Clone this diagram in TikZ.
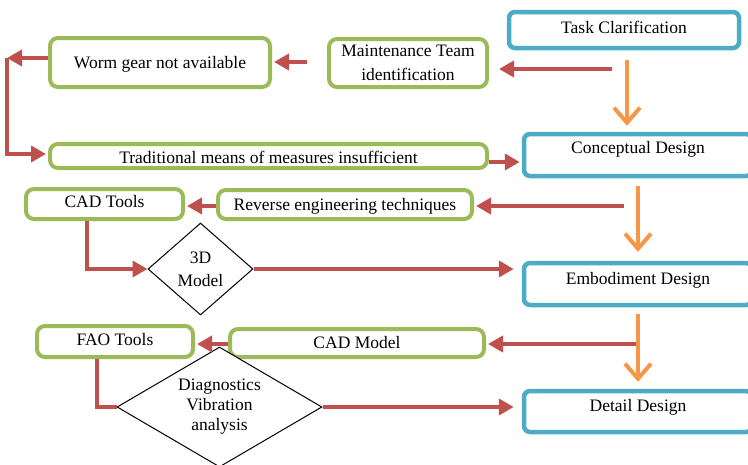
\documentclass[tikz,border=0pt]{standalone}
\usepackage{fontspec}
\setmainfont{Liberation Serif}
\usepackage{tikz}
\usetikzlibrary{arrows.meta, shapes.geometric, calc}

\definecolor{phaseblue}{HTML}{4BACC6}
\definecolor{toolgreen}{HTML}{9BBB59}
\definecolor{linkred}{HTML}{C0504D}
\definecolor{flowor}{HTML}{F79646}

\begin{document}
\begin{tikzpicture}[x=1pt, y=-1pt, font=\fontsize{17.5}{24}\selectfont,
  bluebox/.style={draw=phaseblue, line width=4.5pt, rounded corners=6pt, inner sep=0pt},
  greenbox/.style={draw=toolgreen, line width=4pt, rounded corners=8pt, inner sep=0pt},
  decision/.style={diamond, draw=black, line width=1pt, fill=white, inner sep=0pt, align=center},
  redarrow/.style={draw=linkred, line width=4.5pt, -{Triangle[length=15pt, width=16pt]}},
  redline/.style={draw=linkred, line width=4.5pt},
  orangearrow/.style={draw=flowor, line width=4pt, -{Straight Barb[length=15pt, width=26pt]}}]

% the frame
\useasboundingbox (0,0) rectangle (748,464);

% the design phases
\node[bluebox, minimum width=230pt, text height=21pt, text depth=15pt] (task) at (624,30) {Task Clarification};
\node[bluebox, minimum width=228pt, text height=19.5pt, text depth=22.5pt] (concept) at (638,155) {Conceptual Design};
\node[bluebox, minimum width=228pt, text height=21pt, text depth=21pt] (embod) at (638,284) {Embodiment Design};
\node[bluebox, minimum width=228pt, text height=20pt, text depth=21pt] (detail) at (638,411.5) {Detail Design};

% the steps
\node[greenbox, minimum width=220pt, text height=30pt, text depth=19pt] (worm) at (160,62.5) {Worm gear not available};
\node[greenbox, minimum width=158pt, minimum height=48pt, align=center] (maint) at (408,63) {Maintenance Team\\identification};
\node[greenbox, minimum width=437pt, text height=19pt, text depth=5pt] (trad) at (268.5,156) {Traditional means of measures insufficient};
\node[greenbox, minimum width=157pt, text height=18.5pt, text depth=11.5pt] (cadt) at (104.5,204) {CAD Tools};
\node[greenbox, minimum width=254pt, text height=20pt, text depth=9pt] (rev) at (345,204.5) {Reverse engineering techniques};
\node[greenbox, minimum width=156pt, text height=19.3pt, text depth=11.7pt] (fao) at (115,341.5) {FAO Tools};
\node[greenbox, minimum width=254pt, text height=19.7pt, text depth=8.3pt] (cadm) at (357,343) {CAD Model};

% the decisions
\node[decision, minimum width=105pt, minimum height=92pt, font=\fontsize{17.5}{23}\selectfont] (d3d) at (200.5,269) {3D\\Model};
\node[decision, minimum width=205pt, minimum height=120pt, shape aspect=1.7, font=\fontsize{17.5}{20}\selectfont] (ddiag) at (219.5,407) {Diagnostics\\Vibration\\analysis};

% free ends
\coordinate (tc1) at (612,69);
\coordinate (tc2) at (624,206);
\coordinate (tc3) at (636,344);

% the red links
\draw[redarrow] (tc1) -- ($(tc1 -| maint.east)+(10,0)$);
\draw[redarrow] ($(maint.west)+(-20,-1)$) -- ($(maint.west -| worm.east)+(2,-1)$);
\draw[redarrow] ($(worm.west)+(0,-4.5)$) -- ++(-41,0) coordinate (wc);
\draw[redarrow] (wc) |- ($(trad.west)+(-2,-2)$);
\draw[redarrow] ($(trad.east)+(0,6)$) -- ($(trad.east -| concept.west)+(-2,6)$);
\draw[redarrow] (tc2) -- ($(tc2 -| rev.east)+(2,0)$);
\draw[redarrow] ($(rev.west)+(0,1.5)$) -- ($(rev.west -| cadt.east)+(2,1.5)$);
\draw[redarrow] ($(cadt.south)+(-17.5,0)$) |- (d3d.west);
\draw[redarrow] (d3d.east) -- ($(d3d.east -| embod.west)+(-8,0)$);
\draw[redarrow] (tc3) -- ($(tc3 -| cadm.east)+(2,0)$);
\draw[redarrow] ($(cadm.west)+(0,1)$) -- ($(cadm.west -| fao.east)+(2,1)$);
\draw[redline] ($(fao.south)+(-18,0)$) |- (ddiag.west);
\draw[redarrow] (ddiag.east) -- ($(ddiag.east -| detail.west)+(-8,0)$);

% the orange flow
\draw[orangearrow] ($(task.south)+(3,10)$) -- ($(task.south |- concept.north)+(3,-6)$);
\draw[orangearrow] ($(concept.south)+(0,8)$) -- ($(embod.north)+(0,-9)$);
\draw[orangearrow] ($(embod.south)+(0,7)$) -- ($(detail.north)+(0,-7)$);

\end{tikzpicture}
\end{document}
